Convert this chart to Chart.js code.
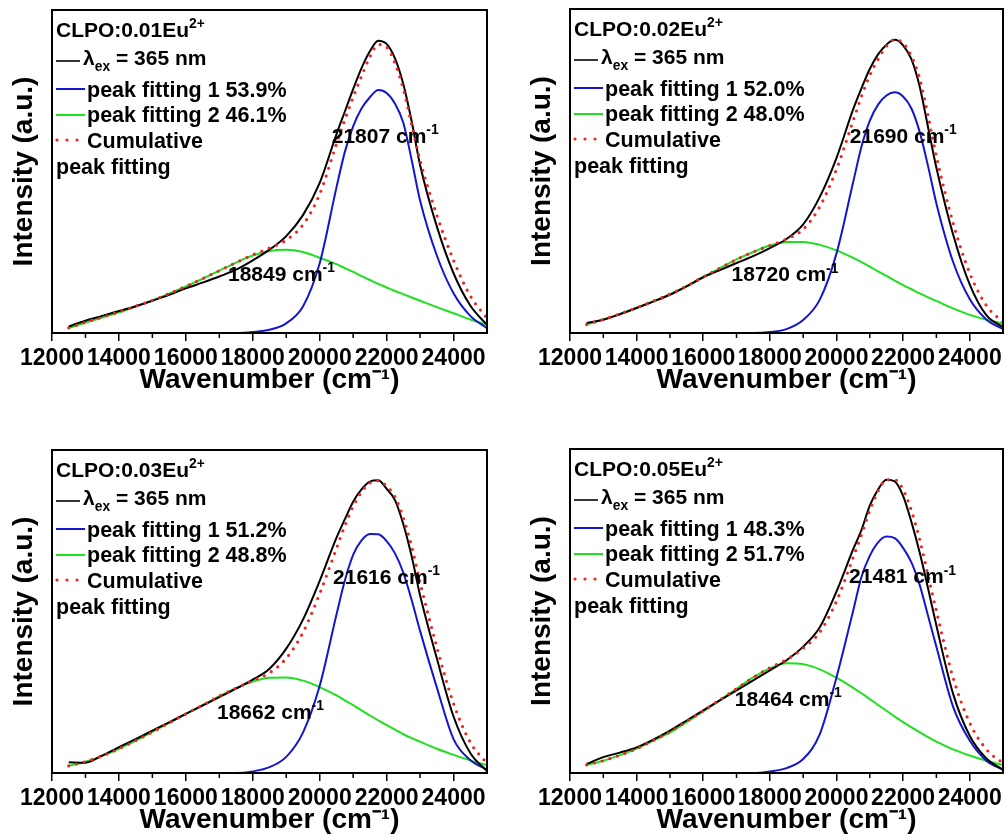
<!DOCTYPE html>
<html>
<head>
<meta charset="utf-8">
<script src="https://cdn.jsdelivr.net/npm/chart.js@4.4.1/dist/chart.umd.min.js"></script>
<style>
  html, body { margin: 0; padding: 0; background: #fff; overflow: hidden; }
  body { width: 1006px; height: 839px; position: relative; }
  canvas { position: absolute; }
</style>
</head>
<body>
<canvas id="c1" width="500" height="420" style="left:0;top:0"></canvas>
<canvas id="c2" width="506" height="420" style="left:500px;top:0"></canvas>
<canvas id="c3" width="500" height="420" style="left:0;top:440px"></canvas>
<canvas id="c4" width="506" height="420" style="left:500px;top:440px"></canvas>
<script>
// Wavenumber grid (cm-1) shared by every curve
const wavenumbers = [12500, 13000, 13500, 14000, 14500, 15000, 15500, 16000, 16500, 17000, 17500,
  18000, 18500, 19000, 19500, 20000, 20500, 20750, 21000, 21250, 21500,
  21750, 22000, 22250, 22500, 22750, 23000, 23500, 24000, 24500, 25000];
const xTickValues = [12000, 14000, 16000, 18000, 20000, 22000, 24000];
const xMinorTicks = [13000, 15000, 17000, 19000, 21000, 23000];

const sampleNames = ['CLPO:0.01Eu', 'CLPO:0.02Eu', 'CLPO:0.03Eu', 'CLPO:0.05Eu'];
const fit1Percent = ['53.9%', '52.0%', '51.2%', '48.3%'];
const fit2Percent = ['46.1%', '48.0%', '48.8%', '51.7%'];
const peak1Centers = ['21807', '21690', '21616', '21481'];
const peak2Centers = ['18849', '18720', '18662', '18464'];

// 0.01 Eu
const measured_001 = [2.0, 3.8, 5.3, 6.8, 8.3, 10.0, 11.8, 13.8, 15.6, 17.5, 19.6, 22.5, 25.8, 30, 36.5, 46.5, 61.5, 68.5, 75.5, 82, 87.2, 90.5, 89.5, 85, 77, 65.5, 52, 33, 18.5, 8.5, 2.5];
const peak1_001 = [0, 0, 0, 0, 0, 0, 0, 0, 0, 0, 0, 0.3, 1.0, 3.0, 8.2, 21.6, 45, 56, 64, 69.5, 73, 75.2, 74.3, 71, 65, 53.5, 41, 24, 12.3, 5.3, 1.5];
const peak2_001 = [1.5, 3.2, 4.8, 6.4, 8.2, 10.1, 12.2, 14.4, 16.8, 19.3, 21.8, 24, 25.4, 25.8, 25.1, 23.3, 21.3, 20.1, 18.9, 17.6, 16.4, 15.2, 14.1, 13, 12, 11, 10, 8, 6.1, 4.2, 2.6];
const cumulative_001 = [1.6, 3.3, 4.9, 6.5, 8.3, 10.1, 12.2, 14.4, 16.8, 19.3, 21.8, 24.2, 26.3, 28.8, 33.5, 43, 58.5, 66, 73, 79.5, 85.5, 89.3, 88.5, 83.5, 75.5, 64.5, 53.5, 36.5, 22.5, 11.5, 4.6];

// 0.02 Eu
const measured_002 = [3.1, 4.1, 5.8, 7.7, 9.7, 11.8, 14.4, 17.2, 19.4, 21.6, 23.7, 26.2, 29, 33.5, 42, 54, 69, 75.5, 81.5, 86, 89, 90.5, 88.8, 84.5, 76, 63.5, 51, 30.5, 15, 5.5, 1.8];
const peak1_002 = [0, 0, 0, 0, 0, 0, 0, 0, 0, 0, 0, 0.3, 1.2, 4.0, 10.3, 24.5, 46.5, 57.5, 65.5, 70.5, 73.3, 74.3, 73, 69.3, 62, 51.5, 40, 22, 10.5, 4.2, 1.2];
const peak2_002 = [2.6, 4.2, 5.9, 7.8, 9.8, 12, 14.5, 17.3, 20, 22.7, 25, 27, 28.1, 28.1, 27.2, 25.5, 23.2, 21.9, 20.5, 19, 17.6, 16.2, 14.8, 13.5, 12.2, 11, 9.9, 7.6, 5.6, 4.1, 2.9];
const cumulative_002 = [2.6, 4.2, 5.9, 7.8, 9.8, 12, 14.5, 17.3, 20, 22.7, 25, 27, 29, 32, 39, 50.5, 65.5, 73, 79.5, 84.5, 88.5, 90.5, 89.5, 85.5, 78.5, 67, 54.5, 34, 18.5, 8.5, 3.3];

// 0.03 Eu
const measured_003 = [3.3, 3.2, 5.4, 8, 10.5, 13.1, 15.7, 18.3, 20.9, 23.5, 26.1, 28.9, 32.3, 38.5, 47.5, 59.5, 72.8, 78.5, 84, 87.8, 90.2, 90.6, 88, 84.5, 77, 67, 55, 35.5, 17.5, 6.2, 0.6];
const peak1_003 = [0, 0, 0, 0, 0, 0, 0, 0, 0, 0, 0, 0.5, 1.8, 5, 12.5, 27, 49, 59.5, 67.5, 72, 74, 73.9, 71.8, 68, 62, 53.5, 44, 26.5, 10.5, 4, 1.0];
const peak2_003 = [2.2, 3.5, 5.3, 7.5, 10, 12.7, 15.5, 18.3, 21, 23.8, 26.3, 28.3, 29.5, 29.6, 28.6, 26.6, 24, 22.5, 21, 19.4, 17.8, 16.3, 14.8, 13.4, 12, 10.8, 9.7, 7.5, 5.6, 3.9, 2.4];
const cumulative_003 = [2.2, 3.5, 5.3, 7.5, 10, 12.7, 15.5, 18.3, 21, 23.8, 26.3, 28.6, 31, 35.5, 43.5, 55.5, 69.5, 76.5, 82.5, 87, 89.8, 90.5, 88.8, 85.5, 79, 70, 59, 39, 21.5, 9.5, 3.0];

// 0.05 Eu
const measured_005 = [2.8, 4.9, 6.3, 7.9, 10.3, 13.1, 16.2, 19.3, 22.4, 25.5, 28.6, 31.7, 34.8, 39, 45, 56, 69, 75, 82.5, 87.5, 90.5, 90, 85.5, 77.5, 68, 57, 45.5, 24.5, 11.5, 4.5, 1.0];
const peak1_005 = [0, 0, 0, 0, 0, 0, 0, 0, 0, 0, 0, 0.5, 1.5, 4.3, 12, 29.5, 50, 60.5, 67, 71.2, 73, 72.5, 69.5, 65, 58, 48.5, 39, 20.5, 10, 3.8, 1.0];
const peak2_005 = [2.5, 3.8, 5.5, 7.5, 10, 12.5, 15.7, 19, 22.5, 26, 29.5, 32.3, 33.9, 33.6, 32, 29.4, 26.3, 24.6, 22.8, 21, 19.2, 17.4, 15.7, 14.1, 12.6, 11.1, 9.7, 7.3, 5.4, 3.8, 2.4];
const cumulative_005 = [2.5, 3.8, 5.5, 7.5, 10, 12.7, 15.9, 19.2, 22.6, 26, 29.5, 32.5, 35, 38.5, 43.5, 53, 66.5, 73.5, 81, 87, 90.5, 90.5, 87.5, 81, 72, 61, 50, 29.5, 15.5, 7.3, 3.0];

// where the two peak labels sit (wavenumber, intensity of the text baseline)
const labelSpots = [
  [[20360, 58.8], [17260, 16.2]],
  [[20400, 58.6], [16850, 15.9]],
  [[20400, 58.6], [16930, 16.7]],
  [[20380, 58.5], [16950, 20.8]]
];

const FONT = "'Liberation Sans', Arial, sans-serif";
Chart.defaults.font.family = FONT;
Chart.defaults.color = '#000';

const COLORS = { measured: '#000000', peak1: '#1515d0', peak2: '#1ee01e', cumulative: '#f02424' };

function richText(ctx, x, y, parts, size) {
  let cx = x;
  parts.forEach(([t, mode]) => {
    const s = mode ? size * 0.66 : size;
    const dy = mode === 'sup' ? -size * 0.42 : mode === 'sub' ? size * 0.28 : 0;
    ctx.font = `bold ${s}px ${FONT}`;
    ctx.fillText(t, cx, y + dy);
    cx += ctx.measureText(t).width;
  });
}

// frame, minor ticks, legend block and peak labels
const panelDecor = {
  id: 'panelDecor',
  afterDatasetsDraw(chart, args, opts) {
    const { ctx, chartArea: a, scales: { x, y } } = chart;
    const i = opts.index;
    const L = a.left, T = a.top;
    ctx.save();
    ctx.strokeStyle = '#000';
    ctx.lineWidth = 2;
    ctx.strokeRect(a.left, a.top, a.right - a.left, a.bottom - a.top);

    ctx.lineWidth = 1.5;
    ctx.beginPath();
    xMinorTicks.forEach(v => {
      const px = x.getPixelForValue(v);
      ctx.moveTo(px, a.bottom);
      ctx.lineTo(px, a.bottom + 5);
    });
    ctx.stroke();

    ctx.fillStyle = '#000';
    ctx.textAlign = 'left';
    ctx.textBaseline = 'alphabetic';
    richText(ctx, L + 4, T + 27, [[sampleNames[i]], ['2+', 'sup']], 21);

    ctx.lineWidth = 1.6;
    ctx.strokeStyle = COLORS.measured;
    ctx.beginPath(); ctx.moveTo(L + 4, T + 51); ctx.lineTo(L + 28, T + 51); ctx.stroke();
    richText(ctx, L + 31, T + 55, [['λ'], ['ex', 'sub'], [' = 365 nm']], 21);

    ctx.lineWidth = 2;
    ctx.strokeStyle = COLORS.peak1;
    ctx.beginPath(); ctx.moveTo(L + 4, T + 79); ctx.lineTo(L + 33, T + 79); ctx.stroke();
    richText(ctx, L + 35, T + 86.7, [['peak fitting 1 ' + fit1Percent[i]]], 21.5);

    ctx.strokeStyle = COLORS.peak2;
    ctx.beginPath(); ctx.moveTo(L + 4, T + 105); ctx.lineTo(L + 33, T + 105); ctx.stroke();
    richText(ctx, L + 35, T + 111.7, [['peak fitting 2 ' + fit2Percent[i]]], 21.5);

    ctx.fillStyle = COLORS.cumulative;
    [5, 15, 25].forEach(dx => {
      ctx.beginPath(); ctx.arc(L + dx, T + 130, 1.6, 0, Math.PI * 2); ctx.fill();
    });
    ctx.fillStyle = '#000';
    richText(ctx, L + 35, T + 137.7, [['Cumulative']], 21.5);
    richText(ctx, L + 4, T + 164, [['peak fitting']], 21.5);

    const spots = labelSpots[i];
    const names = [peak1Centers[i], peak2Centers[i]];
    spots.forEach(([w, v], k) => {
      richText(ctx, x.getPixelForValue(w), y.getPixelForValue(v), [[names[k] + ' cm'], ['-1', 'sup']], 21);
    });
    ctx.restore();
  }
};

function toPoints(values) {
  return wavenumbers.map((w, k) => ({ x: w, y: values[k] }));
}

function buildPanel(canvasId, index, measured, peak1, peak2, cumulative, rightColumn) {
  new Chart(document.getElementById(canvasId), {
    type: 'line',
    data: {
      datasets: [
        { label: 'Cumulative peak fitting', data: toPoints(cumulative), borderColor: COLORS.cumulative,
          borderWidth: 3.2, borderDash: [0, 8], borderCapStyle: 'round', order: 0 },
        { label: 'λex = 365 nm', data: toPoints(measured), borderColor: COLORS.measured, borderWidth: 2, order: 1 },
        { label: 'peak fitting 1', data: toPoints(peak1), borderColor: COLORS.peak1, borderWidth: 2, order: 2 },
        { label: 'peak fitting 2', data: toPoints(peak2), borderColor: COLORS.peak2, borderWidth: 2, order: 3 }
      ]
    },
    options: {
      responsive: false,
      animation: false,
      events: [],
      elements: { point: { radius: 0 }, line: { cubicInterpolationMode: 'monotone', fill: false } },
      layout: { padding: { left: 0, top: rightColumn ? 9 : 10, right: rightColumn ? 3 : 13, bottom: 0 } },
      scales: {
        x: {
          type: 'linear',
          min: 12000,
          max: 25000,
          afterBuildTicks: s => { s.ticks = xTickValues.map(v => ({ value: v })); },
          afterFit: s => { s.height = 87; },
          border: { display: true, color: '#000', width: 2 },
          grid: { display: true, drawOnChartArea: false, drawTicks: true, tickLength: 8, color: '#000', lineWidth: 1.5 },
          ticks: {
            autoSkip: false, maxRotation: 0, minRotation: 0, padding: 4,
            color: '#000', font: { size: 23, weight: 'bold' },
            callback: v => String(v)
          },
          title: {
            display: true, text: 'Wavenumber (cm⁻¹)', color: '#000',
            font: { size: 28, weight: 'bold' }, padding: { top: 0, bottom: 23 }
          }
        },
        y: {
          min: 0,
          max: 100,
          afterFit: s => { s.width = rightColumn ? 70 : 52; },
          border: { display: true, color: '#000', width: 2 },
          grid: { display: false },
          ticks: { display: false },
          title: {
            display: true, text: 'Intensity (a.u.)', color: '#000',
            font: { size: 28, weight: 'bold' }, padding: { top: rightColumn ? 25.7 : 7.2, bottom: 0 }
          }
        }
      },
      plugins: {
        legend: { display: false },
        tooltip: { enabled: false },
        panelDecor: { index }
      }
    },
    plugins: [panelDecor]
  });
}

buildPanel('c1', 0, measured_001, peak1_001, peak2_001, cumulative_001, false);
buildPanel('c2', 1, measured_002, peak1_002, peak2_002, cumulative_002, true);
buildPanel('c3', 2, measured_003, peak1_003, peak2_003, cumulative_003, false);
buildPanel('c4', 3, measured_005, peak1_005, peak2_005, cumulative_005, true);
</script>
</body>
</html>
